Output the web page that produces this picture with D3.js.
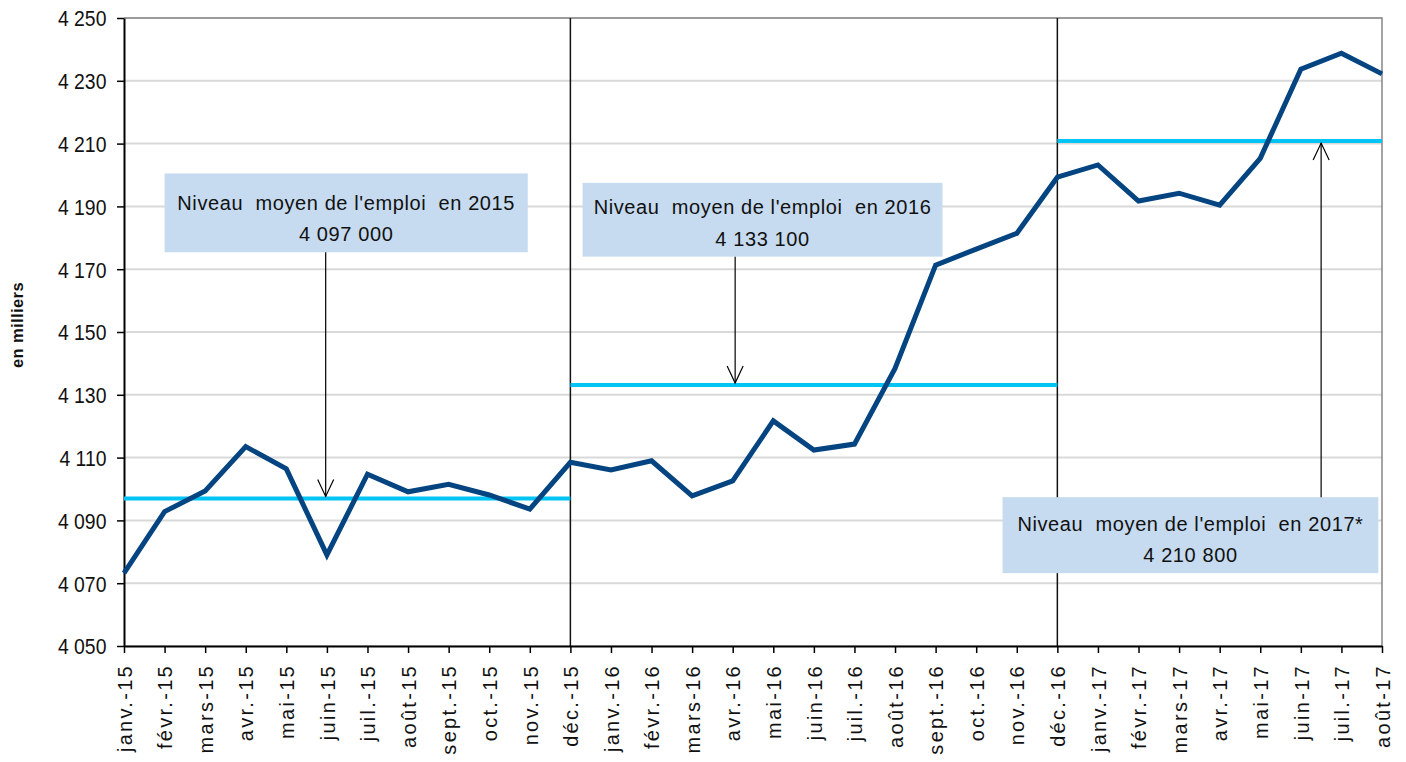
<!DOCTYPE html>
<html>
<head>
<meta charset="utf-8">
<script src="https://cdn.jsdelivr.net/npm/d3@7"></script>
<style>
body { margin: 0; background: #fff; }
text { font-family: "Liberation Sans", Arial, sans-serif; fill: #111; }
</style>
</head>
<body>
<div id="chart"></div>
<script>
// emploi mensuel, en milliers
var months = ["janv.-15","févr.-15","mars-15","avr.-15","mai-15","juin-15","juil.-15","août-15","sept.-15","oct.-15","nov.-15","déc.-15",
	"janv.-16","févr.-16","mars-16","avr.-16","mai-16","juin-16","juil.-16","août-16","sept.-16","oct.-16","nov.-16","déc.-16",
	"janv.-17","févr.-17","mars-17","avr.-17","mai-17","juin-17","juil.-17","août-17"];
var emploi = [4073.2, 4092.8, 4099.4, 4113.5, 4106.4, 4079.0, 4104.7, 4099.1, 4101.5, 4098.1, 4093.6, 4108.5,
	4106.1, 4109.0, 4097.8, 4102.6, 4121.7, 4112.4, 4114.3, 4138.4, 4171.3, 4176.4, 4181.4, 4199.3,
	4203.2, 4191.7, 4194.2, 4190.4, 4205.3, 4233.7, 4238.8, 4232.2];

// moyennes annuelles
var avgFrom = ["janv.-15", "déc.-15", "déc.-16"];
var avgTo = ["déc.-15", "déc.-16", "août-17"];
var avgValue = [4097.0, 4133.1, 4210.8];
var avgTitle = ["Niveau  moyen de l'emploi  en 2015", "Niveau  moyen de l'emploi  en 2016", "Niveau  moyen de l'emploi  en 2017*"];
var avgText = ["4 097 000", "4 133 100", "4 210 800"];

var separators = ["déc.-15", "déc.-16"];
var yTicks = d3.range(4050, 4251, 20);

// where the boxes sit, in month index / value units
var boxLeft = [1.0, 11.3, 21.65];
var boxRight = [9.95, 20.17, 30.91];
var boxTop = [4200.5, 4197.5, 4097.4];
var boxBottom = [4175.4, 4174.0, 4073.2];
var arrowAt = [4.97, 15.06, 29.5];

var margin = {left: 124, right: 24, top: 18, bottom: 116};
var width = 1406 - margin.left - margin.right;
var height = 762 - margin.top - margin.bottom;

var x = d3.scalePoint().domain(months).range([0, width]);
var xi = d3.scaleLinear().domain([0, months.length - 1]).range([0, width]);
var y = d3.scaleLinear().domain([4050, 4250]).range([height, 0]);

var fr = d3.formatLocale({decimal: ",", thousands: " ", grouping: [3], currency: ["", " €"]});
var fmt = fr.format(",");

var svg = d3.select('#chart').append('svg')
	.attr('width', 1406)
	.attr('height', 762);

var g = svg.append('g').attr('transform', 'translate(' + margin.left + ',' + margin.top + ')');

// gridlines
g.selectAll('line.grid')
	.data(yTicks)
	.enter().append('line')
	.attr('class', 'grid')
	.attr('x1', 0).attr('x2', width)
	.attr('y1', function(d) { return y(d); })
	.attr('y2', function(d) { return y(d); })
	.style('stroke', '#d9d9d9')
	.style('stroke-width', 2);

// plot border top/right
g.append('path')
	.attr('d', 'M0,' + y(4250) + 'H' + width + 'V' + height)
	.style('fill', 'none')
	.style('stroke', '#868686')
	.style('stroke-width', 1.5);

// year separators
g.selectAll('line.sep')
	.data(separators)
	.enter().append('line')
	.attr('class', 'sep')
	.attr('x1', function(d) { return x(d); })
	.attr('x2', function(d) { return x(d); })
	.attr('y1', 0).attr('y2', height)
	.style('stroke', '#111')
	.style('stroke-width', 1.5);

// axes
var yAxis = d3.axisLeft(y).tickValues(yTicks).tickSize(7).tickSizeOuter(0).tickFormat(fmt);
var xAxis = d3.axisBottom(x).tickSize(7).tickSizeOuter(0);

var gy = g.append('g').call(yAxis);
gy.select('.domain').style('stroke', '#000').style('stroke-width', 2);
gy.selectAll('.tick line').style('stroke', '#000').style('stroke-width', 1.5);
gy.selectAll('.tick text')
	.attr('x', -20)
	.attr('dy', '0.36em')
	.attr('transform', 'scale(0.88,1)')
	.style('font-size', '22px')
	.style('fill', '#111');

var gx = g.append('g').attr('transform', 'translate(0,' + height + ')').call(xAxis);
gx.select('.domain').style('stroke', '#000').style('stroke-width', 2);
gx.selectAll('.tick line').style('stroke', '#000').style('stroke-width', 1.5);
gx.selectAll('.tick text')
	.attr('transform', 'rotate(-90)')
	.attr('x', -18)
	.attr('y', 0)
	.attr('dy', '0.36em')
	.style('text-anchor', 'end')
	.style('font-size', '20px')
	.style('letter-spacing', '2.3px')
	.style('fill', '#111');

// y title
svg.append('text')
	.attr('transform', 'translate(23,325) rotate(-90)')
	.style('text-anchor', 'middle')
	.style('font-size', '16.5px')
	.style('font-weight', 'bold')
	.style('letter-spacing', '0.4px')
	.text('en milliers');

// average lines
g.selectAll('line.avg')
	.data(avgValue)
	.enter().append('line')
	.attr('class', 'avg')
	.attr('x1', function(d, i) { return x(avgFrom[i]); })
	.attr('x2', function(d, i) { return x(avgTo[i]); })
	.attr('y1', function(d) { return y(d); })
	.attr('y2', function(d) { return y(d); })
	.style('stroke', '#00c4f4')
	.style('stroke-width', 4);

// main series
var line = d3.line()
	.x(function(d, i) { return x(months[i]); })
	.y(function(d) { return y(d); });

g.append('path')
	.datum(emploi)
	.attr('d', line)
	.style('fill', 'none')
	.style('stroke', '#034481')
	.style('stroke-width', 5)
	.style('stroke-linejoin', 'miter');

// annotation boxes
var notes = g.selectAll('g.note')
	.data(avgValue)
	.enter().append('g')
	.attr('class', 'note');

notes.append('rect')
	.attr('x', function(d, i) { return xi(boxLeft[i]); })
	.attr('y', function(d, i) { return y(boxTop[i]); })
	.attr('width', function(d, i) { return xi(boxRight[i]) - xi(boxLeft[i]); })
	.attr('height', function(d, i) { return y(boxBottom[i]) - y(boxTop[i]); })
	.style('fill', '#c6dbef');

notes.append('text')
	.attr('x', function(d, i) { return (xi(boxLeft[i]) + xi(boxRight[i])) / 2; })
	.attr('y', function(d, i) { return y(boxBottom[i]) - 42.5; })
	.style('text-anchor', 'middle')
	.style('font-size', '20px')
	.style('letter-spacing', '0.6px')
	.style('white-space', 'pre')
	.text(function(d, i) { return avgTitle[i]; });

notes.append('text')
	.attr('x', function(d, i) { return (xi(boxLeft[i]) + xi(boxRight[i])) / 2; })
	.attr('y', function(d, i) { return y(boxBottom[i]) - 11; })
	.style('text-anchor', 'middle')
	.style('font-size', '20px')
	.style('letter-spacing', '0.6px')
	.text(function(d, i) { return avgText[i]; });

// arrows from box to average line
notes.each(function(d, i) {
	var ax = xi(arrowAt[i]);
	var down = boxTop[i] > d;
	var y0 = down ? y(boxBottom[i]) : y(boxTop[i]);
	var tip = down ? y(d) - 2 : y(d) + 2;
	var s = down ? -1 : 1;
	var el = d3.select(this);
	el.append('line')
		.attr('x1', ax).attr('x2', ax)
		.attr('y1', y0).attr('y2', tip)
		.style('stroke', '#000')
		.style('stroke-width', 1.2);
	el.append('path')
		.attr('d', 'M' + (ax - 8) + ',' + (tip + s * 17) + 'L' + ax + ',' + tip + 'L' + (ax + 8) + ',' + (tip + s * 17))
		.style('fill', 'none')
		.style('stroke', '#000')
		.style('stroke-width', 1.2);
});
</script>
</body>
</html>
